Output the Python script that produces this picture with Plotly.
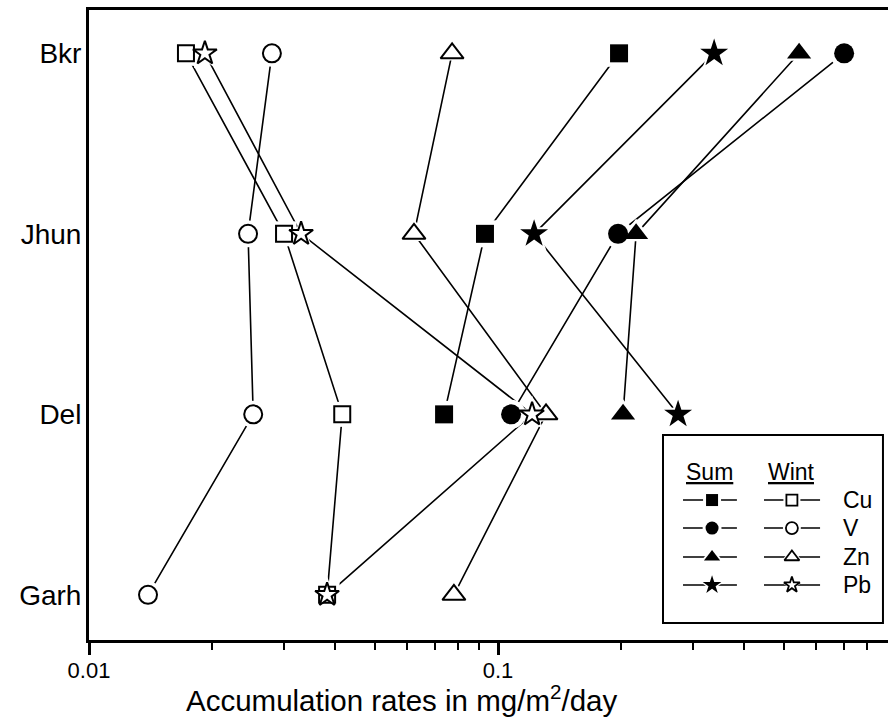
import math
import plotly.graph_objects as go

# ---------------- data ----------------
sites = ["Bkr", "Jhun", "Del", "Garh"]
site_order = ["Garh", "Del", "Jhun", "Bkr"]

sum_cu = [0.1976, 0.0929, 0.0738, None]
sum_v = [0.7015, 0.1965, 0.1076, None]
sum_zn = [0.5444, 0.2175, 0.2021, None]
sum_pb = [0.3375, 0.1225, 0.2755, None]

wint_cu = [0.01726, 0.02998, 0.0416, 0.0382]
wint_v = [0.0280, 0.02448, 0.0252, 0.01394]
wint_zn = [0.0772, 0.0623, 0.1310, 0.0780]
wint_pb = [0.0192, 0.0330, 0.1211, 0.0382]

elements = ["Cu", "V", "Zn", "Pb"]
x_tickvals = [0.01, 0.1]
x_ticktext = ["0.01", "0.1"]
x_minor = [0.02, 0.03, 0.04, 0.05, 0.06, 0.07, 0.08, 0.09,
           0.2, 0.3, 0.4, 0.5, 0.6, 0.7, 0.8]
x_title = "Accumulation rates in mg/m<sup>2</sup>/day"

# ---------------- styles ----------------
FONT = "Liberation Sans, Arial, sans-serif"
styles = {
    ("Sum", "Cu"): dict(symbol="square", size=18, filled=True),
    ("Sum", "V"): dict(symbol="circle", size=20, filled=True),
    ("Sum", "Zn"): dict(symbol="triangle-up", size=21, filled=True),
    ("Sum", "Pb"): dict(symbol="star", size=21, filled=True),
    ("Wint", "Cu"): dict(symbol="square", size=16, filled=False),
    ("Wint", "V"): dict(symbol="circle", size=18, filled=False),
    ("Wint", "Zn"): dict(symbol="triangle-up", size=20, filled=False),
    ("Wint", "Pb"): dict(symbol="star", size=18, filled=False),
}
series = [
    ("Sum", "Cu", sum_cu), ("Sum", "V", sum_v), ("Sum", "Zn", sum_zn), ("Sum", "Pb", sum_pb),
    ("Wint", "Cu", wint_cu), ("Wint", "V", wint_v), ("Wint", "Zn", wint_zn), ("Wint", "Pb", wint_pb),
]

fig = go.Figure()

# lines
for season, el, vals in series:
    fig.add_trace(go.Scatter(x=vals, y=sites, mode="lines",
                             line=dict(color="black", width=1.6),
                             connectgaps=False, showlegend=False, hoverinfo="skip"))
# white halos (gap between line and marker)
for season, el, vals in series:
    st = styles[(season, el)]
    fig.add_trace(go.Scatter(x=vals, y=sites, mode="markers",
                             marker=dict(symbol=st["symbol"], size=st["size"] + 9,
                                         color="white", line=dict(width=0)),
                             showlegend=False, hoverinfo="skip"))
# markers
for season, el, vals in series:
    st = styles[(season, el)]
    if st["filled"]:
        mk = dict(symbol=st["symbol"], size=st["size"], color="black",
                  line=dict(color="black", width=0))
    else:
        mk = dict(symbol=st["symbol"], size=st["size"], color="white",
                  line=dict(color="black", width=2))
    fig.add_trace(go.Scatter(x=vals, y=sites, mode="markers", marker=mk,
                             name=f"{season} {el}", showlegend=False))

# ---------------- custom legend (auxiliary axes inside the box) ----------------
box_x = [0.7184, 0.9937]
box_y = [0.027, 0.3254]
row_y = {"Cu": 0.654, "V": 0.505, "Zn": 0.351, "Pb": 0.202}
key_x = {"Sum": (0.091, 0.223, 0.336), "Wint": (0.459, 0.586, 0.714)}
for season in ["Sum", "Wint"]:
    x0, xm, x1 = key_x[season]
    for el in elements:
        st = styles[(season, el)]
        yy = row_y[el]
        fig.add_trace(go.Scatter(x=[x0, x1], y=[yy, yy], mode="lines",
                                 line=dict(color="black", width=1.6),
                                 xaxis="x2", yaxis="y2", showlegend=False, hoverinfo="skip"))
        sz = round(st["size"] * 0.66)
        fig.add_trace(go.Scatter(x=[xm], y=[yy], mode="markers",
                                 marker=dict(symbol=st["symbol"], size=sz + 6, color="white",
                                             line=dict(width=0)),
                                 xaxis="x2", yaxis="y2", showlegend=False, hoverinfo="skip"))
        if st["filled"]:
            mk = dict(symbol=st["symbol"], size=sz, color="black", line=dict(width=0))
        else:
            mk = dict(symbol=st["symbol"], size=sz, color="white",
                      line=dict(color="black", width=1.8))
        fig.add_trace(go.Scatter(x=[xm], y=[yy], mode="markers", marker=mk,
                                 xaxis="x2", yaxis="y2", showlegend=False, hoverinfo="skip"))

annotations = [
    dict(text="<u>Sum</u>", x=0.213, y=0.803, xref="x2", yref="y2", showarrow=False,
         font=dict(size=23, color="black", family=FONT), xanchor="center", yanchor="middle"),
    dict(text="<u>Wint</u>", x=0.586, y=0.803, xref="x2", yref="y2", showarrow=False,
         font=dict(size=23, color="black", family=FONT), xanchor="center", yanchor="middle"),
]
for el in elements:
    annotations.append(dict(text=el, x=0.81, y=row_y[el], xref="x2", yref="y2",
                            showarrow=False, xanchor="left", yanchor="middle",
                            font=dict(size=23, color="black", family=FONT)))
annotations.append(dict(text=x_title, x=0.3905, y=-0.093, xref="paper", yref="paper",
                        showarrow=False, xanchor="center", yanchor="middle",
                        font=dict(size=29.5, color="black", family=FONT)))

fig.update_layout(
    width=888, height=717,
    margin=dict(l=89, r=0, t=10, b=77),
    paper_bgcolor="white", plot_bgcolor="white",
    font=dict(family=FONT, color="black"),
    showlegend=False,
    xaxis=dict(type="log", range=[-2, math.log10(0.898)],
               tickmode="array", tickvals=x_tickvals, ticktext=x_ticktext,
               ticks="outside", ticklen=12, tickwidth=2.5, tickcolor="black",
               minor=dict(tickmode="array", tickvals=x_minor, ticks="outside",
                          ticklen=7, tickwidth=2, tickcolor="black", showgrid=False),
               showline=True, linewidth=3, linecolor="black", mirror=True,
               showgrid=False, zeroline=False, tickfont=dict(size=22, family=FONT),
               ticklabelstandoff=-3),
    yaxis=dict(type="category", categoryorder="array", categoryarray=site_order,
               range=[-0.25, 3.24], showline=True, linewidth=3, linecolor="black",
               ticks="", showgrid=False, zeroline=False,
               tickfont=dict(size=28, family=FONT), ticklabelstandoff=-1),
    xaxis2=dict(domain=box_x, range=[0, 1], anchor="y2", visible=False, fixedrange=True),
    yaxis2=dict(domain=box_y, range=[0, 1], anchor="x2", visible=False, fixedrange=True),
    shapes=[dict(type="rect", xref="paper", yref="paper",
                 x0=box_x[0], x1=box_x[1], y0=box_y[0], y1=box_y[1],
                 line=dict(color="black", width=2), fillcolor="rgba(0,0,0,0)", layer="above")],
    annotations=annotations,
)

fig.write_html("out.html", config={"displayModeBar": False},
               post_script="document.body.style.margin='0';document.body.style.overflow='hidden';")
